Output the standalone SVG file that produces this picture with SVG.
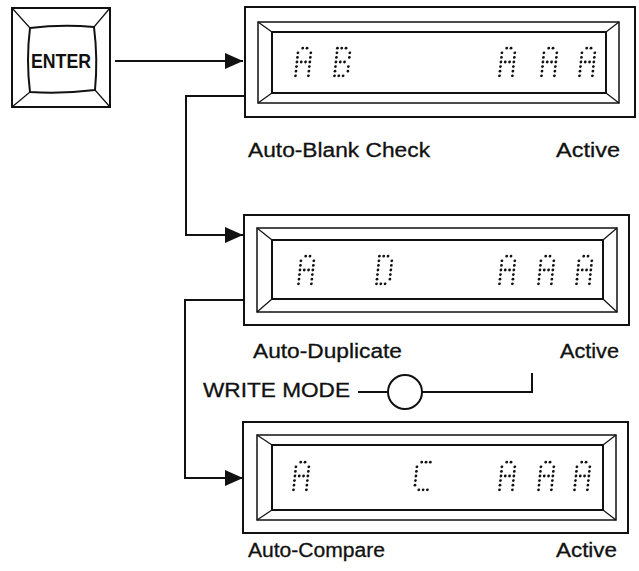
<svg xmlns="http://www.w3.org/2000/svg" xmlns:xlink="http://www.w3.org/1999/xlink" width="639" height="571" viewBox="0 0 639 571">
<style>
.ln{fill:none;stroke:#111;stroke-width:2}
.bz{fill:none;stroke:#111;stroke-width:1.5}
.thin{fill:none;stroke:#111;stroke-width:1.2}
.lbl{font-family:"Liberation Sans",Arial,sans-serif;font-size:20px;fill:#111;stroke:#111;stroke-width:0.3}
.key{font-family:"Liberation Sans",Arial,sans-serif;font-size:20px;font-weight:bold;fill:#111}
.dots circle{fill:#111}
</style>
<defs>
<marker id="ah" markerUnits="userSpaceOnUse" markerWidth="18" markerHeight="16" refX="18" refY="8" orient="auto">
<path d="M0,0 L18,8 L0,16 Z" fill="#111"/>
</marker>
<g id="gA" class="dots">
<circle cx="4.3" cy="0" r="1.4"/><circle cx="8.6" cy="0" r="1.4"/>
<circle cx="0" cy="4.6" r="1.4"/><circle cx="12.9" cy="4.6" r="1.4"/>
<circle cx="0" cy="9.2" r="1.4"/><circle cx="12.9" cy="9.2" r="1.4"/>
<circle cx="0" cy="13.8" r="1.4"/><circle cx="4.3" cy="13.8" r="1.4"/><circle cx="8.6" cy="13.8" r="1.4"/><circle cx="12.9" cy="13.8" r="1.4"/>
<circle cx="0" cy="18.4" r="1.4"/><circle cx="12.9" cy="18.4" r="1.4"/>
<circle cx="0" cy="23" r="1.4"/><circle cx="12.9" cy="23" r="1.4"/>
<circle cx="0" cy="27.6" r="1.4"/><circle cx="12.9" cy="27.6" r="1.4"/>
</g>
<g id="gB" class="dots">
<circle cx="0" cy="0" r="1.4"/><circle cx="4.3" cy="0" r="1.4"/><circle cx="8.6" cy="0" r="1.4"/>
<circle cx="0" cy="4.6" r="1.4"/><circle cx="12.9" cy="4.6" r="1.4"/>
<circle cx="0" cy="9.2" r="1.4"/><circle cx="12.9" cy="9.2" r="1.4"/>
<circle cx="0" cy="13.8" r="1.4"/><circle cx="4.3" cy="13.8" r="1.4"/><circle cx="8.6" cy="13.8" r="1.4"/>
<circle cx="0" cy="18.4" r="1.4"/><circle cx="12.9" cy="18.4" r="1.4"/>
<circle cx="0" cy="23" r="1.4"/><circle cx="12.9" cy="23" r="1.4"/>
<circle cx="0" cy="27.6" r="1.4"/><circle cx="4.3" cy="27.6" r="1.4"/><circle cx="8.6" cy="27.6" r="1.4"/>
</g>
<g id="gD" class="dots">
<circle cx="0" cy="0" r="1.4"/><circle cx="4.3" cy="0" r="1.4"/><circle cx="8.6" cy="0" r="1.4"/>
<circle cx="0" cy="4.6" r="1.4"/><circle cx="12.9" cy="4.6" r="1.4"/>
<circle cx="0" cy="9.2" r="1.4"/><circle cx="12.9" cy="9.2" r="1.4"/>
<circle cx="0" cy="13.8" r="1.4"/><circle cx="12.9" cy="13.8" r="1.4"/>
<circle cx="0" cy="18.4" r="1.4"/><circle cx="12.9" cy="18.4" r="1.4"/>
<circle cx="0" cy="23" r="1.4"/><circle cx="12.9" cy="23" r="1.4"/>
<circle cx="0" cy="27.6" r="1.4"/><circle cx="4.3" cy="27.6" r="1.4"/><circle cx="8.6" cy="27.6" r="1.4"/>
</g>
<g id="gC" class="dots">
<circle cx="4.3" cy="0" r="1.4"/><circle cx="8.6" cy="0" r="1.4"/><circle cx="12.9" cy="0" r="1.4"/>
<circle cx="0" cy="4.6" r="1.4"/>
<circle cx="0" cy="9.2" r="1.4"/>
<circle cx="0" cy="13.8" r="1.4"/>
<circle cx="0" cy="18.4" r="1.4"/>
<circle cx="0" cy="23" r="1.4"/>
<circle cx="4.3" cy="27.6" r="1.4"/><circle cx="8.6" cy="27.6" r="1.4"/><circle cx="12.9" cy="27.6" r="1.4"/>
</g>
</defs>
<rect width="639" height="571" fill="#fff"/>

<g id="enter-key">
<rect x="12" y="8" width="98" height="99" class="ln"/>
<path d="M30,28 Q62,24 94,27 Q98,59 95,90 Q62,94 30,92 Q26,60 30,28 Z" class="ln"/>
<path d="M12,8 L30,28 M110,8 L94,27 M110,107 L95,90 M12,107 L30,92" class="thin"/>
<text x="31" y="68" class="key" textLength="60" lengthAdjust="spacingAndGlyphs">ENTER</text>
</g>

<g id="display-1">
<rect x="245" y="7" width="390" height="110" class="ln"/>
<rect x="258" y="22" width="361" height="81" class="bz"/>
<rect x="272" y="32" width="334" height="61" class="ln"/>
<path d="M258,22 L272,32 M619,22 L606,32 M619,103 L606,93 M258,103 L272,93" class="thin"/>
<use xlink:href="#gA" transform="translate(298.4,48.2) skewX(-6)"/>
<use xlink:href="#gB" transform="translate(337.4,48.2) skewX(-6)"/>
<use xlink:href="#gA" transform="translate(502.4,48.2) skewX(-6)"/>
<use xlink:href="#gA" transform="translate(544.4,48.2) skewX(-6)"/>
<use xlink:href="#gA" transform="translate(582.4,48.2) skewX(-6)"/>
<text x="248" y="157" class="lbl" textLength="182" lengthAdjust="spacingAndGlyphs">Auto-Blank Check</text>
<text x="556" y="157" class="lbl" textLength="64" lengthAdjust="spacingAndGlyphs">Active</text>
</g>

<g id="display-2">
<rect x="244" y="215" width="385" height="110" class="ln"/>
<rect x="257" y="228" width="360" height="84" class="bz"/>
<rect x="272" y="240" width="331" height="59" class="ln"/>
<path d="M257,228 L272,240 M617,228 L603,240 M617,312 L603,299 M257,312 L272,299" class="thin"/>
<use xlink:href="#gA" transform="translate(301.4,256.2) skewX(-6)"/>
<use xlink:href="#gD" transform="translate(379.4,256.2) skewX(-6)"/>
<use xlink:href="#gA" transform="translate(502.4,256.2) skewX(-6)"/>
<use xlink:href="#gA" transform="translate(541.4,256.2) skewX(-6)"/>
<use xlink:href="#gA" transform="translate(579.4,256.2) skewX(-6)"/>
<text x="253" y="358" class="lbl" textLength="149" lengthAdjust="spacingAndGlyphs">Auto-Duplicate</text>
<text x="560" y="358" class="lbl" textLength="59" lengthAdjust="spacingAndGlyphs">Active</text>
</g>

<g id="write-mode-switch">
<text x="203" y="397" class="lbl" textLength="147" lengthAdjust="spacingAndGlyphs">WRITE MODE</text>
<circle cx="405" cy="392" r="17" class="ln"/>
</g>

<g id="display-3">
<rect x="243" y="422" width="385" height="111" class="ln"/>
<rect x="257" y="435" width="359" height="85" class="bz"/>
<rect x="272" y="445" width="331" height="65" class="ln"/>
<path d="M257,435 L272,445 M616,435 L603,445 M616,520 L603,510 M257,520 L272,510" class="thin"/>
<use xlink:href="#gA" transform="translate(296.4,462.2) skewX(-6)"/>
<use xlink:href="#gC" transform="translate(417.4,462.2) skewX(-6)"/>
<use xlink:href="#gA" transform="translate(502.4,462.2) skewX(-6)"/>
<use xlink:href="#gA" transform="translate(541.4,462.2) skewX(-6)"/>
<use xlink:href="#gA" transform="translate(577.4,462.2) skewX(-6)"/>
<text x="248" y="557" class="lbl" textLength="137" lengthAdjust="spacingAndGlyphs">Auto-Compare</text>
<text x="556" y="557" class="lbl" textLength="61" lengthAdjust="spacingAndGlyphs">Active</text>
</g>

<g id="connectors">
<path d="M115,61 H243" class="ln" marker-end="url(#ah)"/>
<path d="M245,96 H186 V235 H243" class="ln" marker-end="url(#ah)"/>
<path d="M244,300 H185 V478 H243" class="ln" marker-end="url(#ah)"/>
<path d="M358,392 H388" class="ln"/>
<path d="M422,392 H532 V373" class="ln"/>
</g>
</svg>
